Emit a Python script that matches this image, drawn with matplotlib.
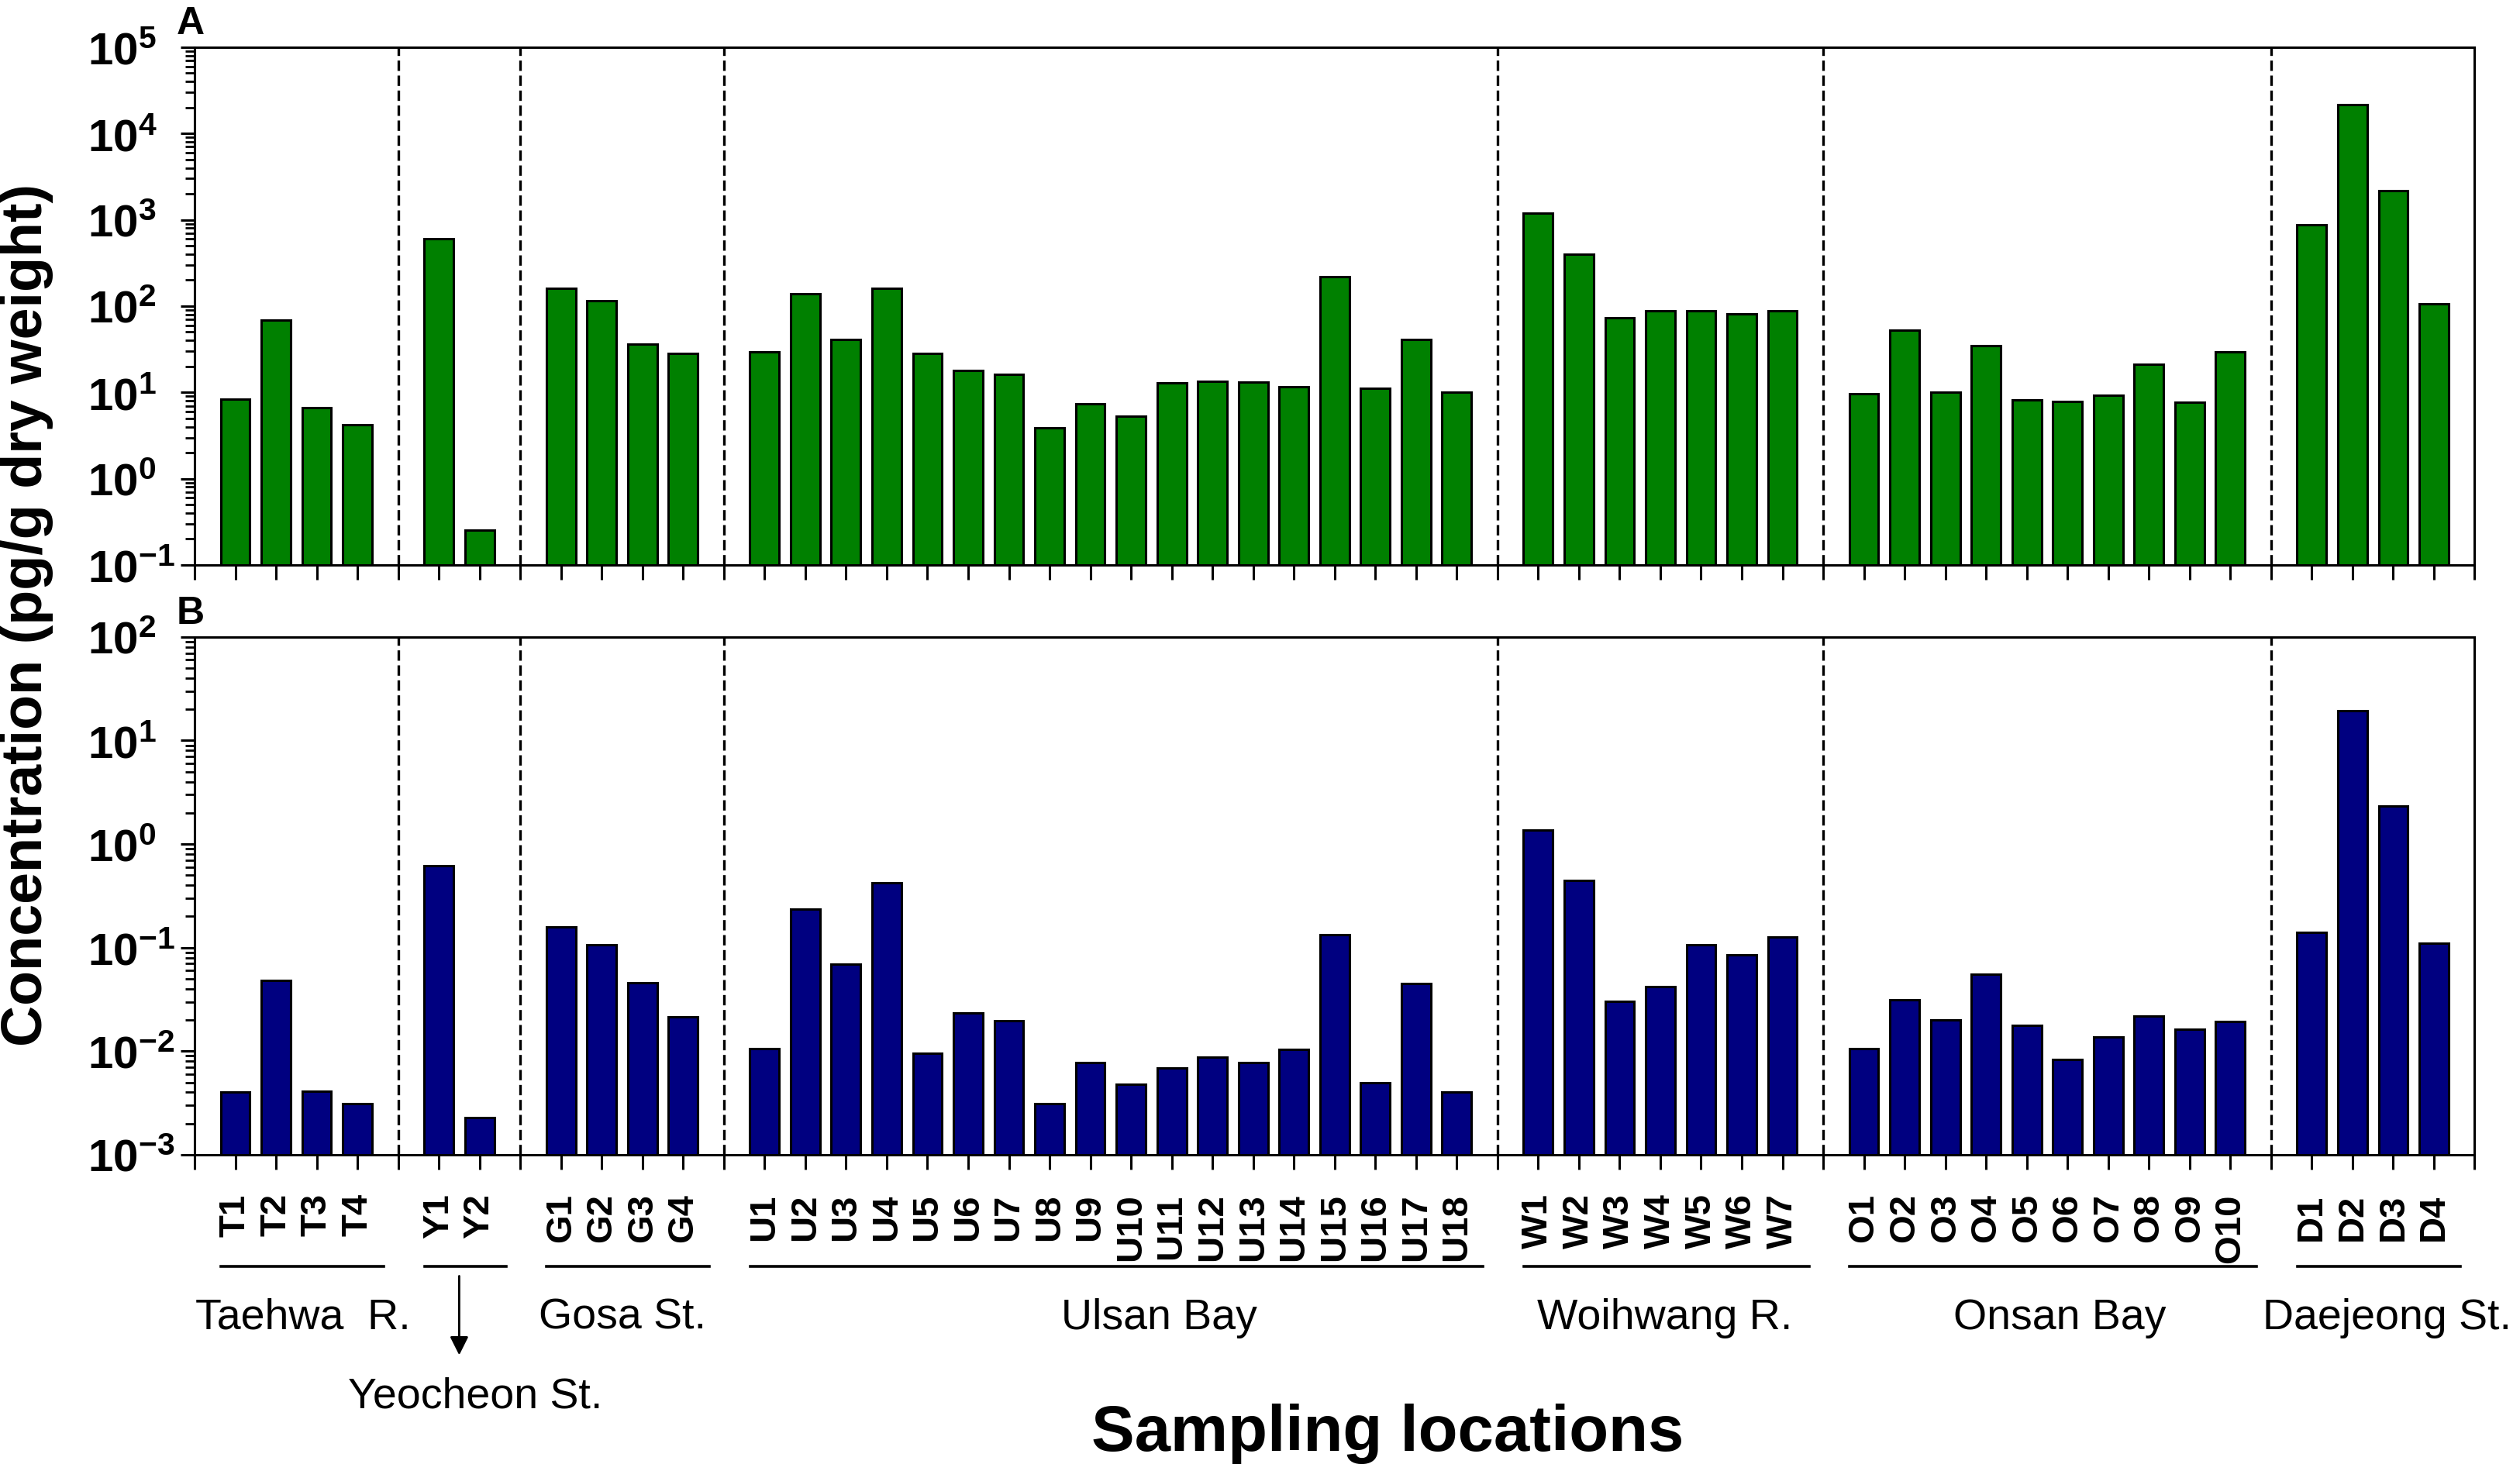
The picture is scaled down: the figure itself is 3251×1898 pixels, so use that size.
import numpy as np
import matplotlib.pyplot as plt
from matplotlib.ticker import LogLocator, NullFormatter
from matplotlib.transforms import blended_transform_factory

plt.rcParams['font.family'] = ['Liberation Sans', 'DejaVu Sans']
plt.rcParams['mathtext.fontset'] = 'custom'
plt.rcParams['mathtext.rm'] = 'Liberation Sans'
plt.rcParams['mathtext.bf'] = 'Liberation Sans:bold'

# sampling groups: prefix, number of sites, group name
group_prefix = ['T', 'Y', 'G', 'U', 'W', 'O', 'D']
group_size = [4, 2, 4, 18, 7, 10, 4]
group_names = ['Taehwa  R.', 'Yeocheon St.', 'Gosa St.', 'Ulsan Bay',
               'Woihwang R.', 'Onsan Bay', 'Daejeong St.']

# panel A (pg/g dry weight)
a_T = [8.3, 69, 6.6, 4.2]
a_Y = [605, 0.255]
a_G = [162, 116, 36, 28]
a_U = [29.4, 138, 41, 162, 28.5, 17.9, 16.2, 3.9, 7.4, 5.3, 12.8, 13.5,
       13.2, 11.6, 219, 11.1, 41, 10.1]
a_W = [1186, 401, 74, 88.6, 88.6, 81.8, 88.6]
a_O = [9.7, 53, 10, 34.5, 8.1, 7.9, 9.2, 21, 7.7, 29.5]
a_D = [878, 21400, 2170, 106]

# panel B (pg/g dry weight)
b_T = [0.00405, 0.048, 0.0041, 0.0031]
b_Y = [0.616, 0.0023]
b_G = [0.158, 0.107, 0.0456, 0.0214]
b_U = [0.0105, 0.234, 0.0698, 0.421, 0.0096, 0.0234, 0.0198, 0.0031,
       0.0077, 0.00475, 0.0069, 0.0087, 0.0077, 0.0104, 0.134, 0.0050,
       0.0449, 0.0040]
b_W = [1.36, 0.449, 0.0305, 0.042, 0.107, 0.085, 0.126]
b_O = [0.0106, 0.0313, 0.0200, 0.0552, 0.0179, 0.0083, 0.0136, 0.0219,
       0.0164, 0.0195]
b_D = [0.141, 19.4, 2.32, 0.111]

vals_a = a_T + a_Y + a_G + a_U + a_W + a_O + a_D
vals_b = b_T + b_Y + b_G + b_U + b_W + b_O + b_D
site_labels = [f'{p}{i + 1}' for p, n in zip(group_prefix, group_size)
               for i in range(n)]

# slot positions: one empty slot between groups (dashed separator)
xpos, seps, spans = [], [], []
pos = 1
for n in group_size:
    xpos += list(range(pos, pos + n))
    spans.append((pos, pos + n - 1))
    seps.append(pos + n)
    pos += n + 1
x_end = seps.pop()  # last one is the right edge of the axis

fig = plt.figure(figsize=(16.255, 9.495), dpi=200)
ax_a = fig.add_axes([0.0772, 0.6156, 0.9048, 0.3518])
ax_b = fig.add_axes([0.0772, 0.2149, 0.9048, 0.3518])

panels = [
    (ax_a, vals_a, '#008000', (0.1, 1e5), np.arange(-1, 6), 'A'),
    (ax_b, vals_b, '#000080', (1e-3, 1e2), np.arange(-3, 3), 'B'),
]

for ax, vals, color, ylim, exps, letter in panels:
    ax.set_yscale('log')
    ax.bar(xpos, np.array(vals) - ylim[0], bottom=ylim[0], width=0.72,
           color=color, edgecolor='black', linewidth=1.1, zorder=3)
    for s in seps:
        ax.axvline(s, color='black', lw=1.2, ls=(0, (4, 1.8)), zorder=2)
    ax.set_xlim(0, x_end)
    ax.set_ylim(*ylim)
    ax.set_yticks(10.0 ** exps)
    ax.set_yticklabels([rf'$\mathbf{{10^{{{e}}}}}$' for e in exps],
                       fontsize=21)
    plt.setp(ax.get_yticklabels(), ha='left')
    ax.yaxis.set_minor_locator(LogLocator(base=10, subs=np.arange(2, 10),
                                          numticks=100))
    ax.yaxis.set_minor_formatter(NullFormatter())
    ax.tick_params(axis='y', which='major', direction='out', length=6.5,
                   width=1.1, pad=43)
    ax.tick_params(axis='y', which='minor', direction='out', length=4.2,
                   width=1.0)
    ax.set_xticks(np.arange(0, x_end + 1))
    ax.tick_params(axis='x', direction='out', length=6.8, width=1.1, pad=11)
    for sp in ax.spines.values():
        sp.set_linewidth(1.1)
    ax.text(-0.008, 1.012, letter, transform=ax.transAxes, fontsize=18,
            fontweight='bold', ha='left', va='bottom')

ax_a.set_xticklabels([])
tick_text = [''] * (x_end + 1)
for x, lab in zip(xpos, site_labels):
    tick_text[x] = lab
ax_b.set_xticklabels(tick_text, rotation=90, fontsize=17, fontweight='bold')

# group underlines and names below panel B
trans = blended_transform_factory(ax_b.transData, fig.transFigure)
label_x = [2.67, 6.9, 10.5, 23.7, 36.1, 45.8, 53.85]
for (first, last), name, lx in zip(spans, group_names, label_x):
    ax_b.plot([first - 0.35, last + 0.65], [0.139, 0.139], color='black',
              lw=1.3, transform=trans, clip_on=False)
    if name.startswith('Yeocheon'):
        ax_b.annotate('', xy=(6.5, 0.0758), xytext=(6.5, 0.1354),
                      xycoords=trans, textcoords=trans,
                      arrowprops=dict(arrowstyle='-|>', color='black',
                                      lw=1.0, mutation_scale=18))
        ax_b.text(lx, 0.0432, name, transform=trans, fontsize=20,
                  ha='center', va='baseline')
    else:
        ax_b.text(lx, 0.0969, name, transform=trans, fontsize=20,
                  ha='center', va='baseline')

fig.text(0.5505, 0.026, 'Sampling locations', fontsize=30,
         fontweight='bold', ha='center', va='center')
fig.text(0.0105, 0.582, 'Concentration (pg/g dry weight)', fontsize=26.5,
         fontweight='bold', rotation=90, ha='center', va='center')

fig.savefig('out.png', dpi=200)
